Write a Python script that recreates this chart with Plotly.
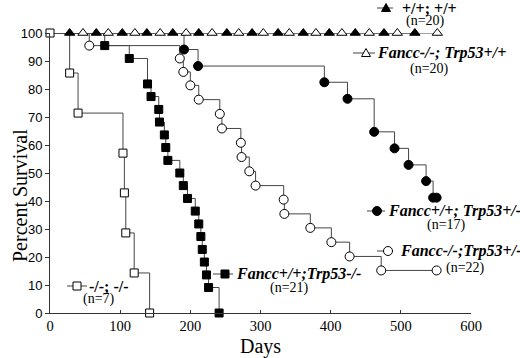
import plotly.graph_objects as go

# ---------------- data ----------------
# +/+; +/+ (n=20) censored marks, all alive
wt_days = [28, 66, 103, 138, 175, 212, 252, 288, 325, 361, 398, 435, 476, 520]
wt_surv = [100] * len(wt_days)
# Fancc-/-; Trp53+/+ (n=20) censored marks, all alive
fa_days = [47, 83, 121, 157, 194, 231, 269, 304, 341, 379, 416, 455, 495, 552]
fa_surv = [100] * len(fa_days)
# -/-; -/- (n=7)
dko_days = [0, 28, 40, 104, 106, 108, 120, 142]
dko_surv = [100, 85.7, 71.4, 57.1, 42.9, 28.6, 14.3, 0]
# Fancc+/+; Trp53-/- (n=21)
p53ko_days = [78, 113, 139, 144, 155, 156, 163, 165, 168, 185, 190, 196, 207, 212, 215, 217, 220, 223, 226, 241]
p53ko_surv = [95.5, 90.9, 81.8, 77.3, 72.7, 68.2, 63.6, 59.1, 54.5, 50.0, 45.5, 40.9, 36.4, 31.8, 27.3, 22.7, 18.2, 13.6, 9.1, 0]
# Fancc-/-; Trp53+/- (n=22)
fahet_days = [56, 185, 190, 200, 212, 242, 245, 272, 273, 284, 293, 333, 334, 371, 401, 427, 472, 551]
fahet_surv = [95.5, 90.9, 86.1, 81.3, 76.2, 71.1, 65.9, 60.8, 55.7, 50.6, 45.5, 40.5, 35.4, 30.4, 25.3, 20.2, 15.2, 15.2]
# Fancc+/+; Trp53+/- (n=17)
het_days = [191, 211, 391, 424, 462, 491, 511, 536, 546, 551]
het_surv = [94.1, 88.2, 82.4, 76.5, 64.7, 58.8, 52.9, 47.1, 41.2, 41.2]

x_ticks = [0, 100, 200, 300, 400, 500, 600]
y_ticks = [0, 10, 20, 30, 40, 50, 60, 70, 80, 90, 100]

# ---------------- layout geometry ----------------
W, H = 520, 358
PX0, PX1 = 50, 471
PY1, PY0 = 33, 313
ML, MT, MR, MB = PX0, PY1, W - PX1, H - PY0

def pxx(px):
    return (px - PX0) / (PX1 - PX0)

def pxy(py):
    return (PY0 - py) / (PY0 - PY1)

SERIF = "Liberation Serif, Times New Roman, serif"
SANS = "Liberation Sans, Arial, sans-serif"
LINE_C = "#454545"

fig = go.Figure()

series = [
    (wt_days, wt_surv, "triangle-up", "black", True, 9),
    (fa_days, fa_surv, "triangle-up", "white", True, 9),
    (dko_days, dko_surv, "square", "white", False, 8),
    (p53ko_days, p53ko_surv, "square", "black", True, 8),
    (fahet_days, fahet_surv, "circle", "white", True, 9),
    (het_days, het_surv, "circle", "black", True, 9),
]

for d, s, sym, fill, add_origin, sz in series:
    lx = ([0] + d) if add_origin else d
    ly = ([100] + s) if add_origin else s
    fig.add_trace(go.Scatter(x=lx, y=ly, mode="lines", line=dict(color=LINE_C, width=1, shape="hv"),
                             hoverinfo="skip", showlegend=False, cliponaxis=False))
for d, s, sym, fill, add_origin, sz in series:
    fig.add_trace(go.Scatter(x=d, y=s, mode="markers",
                             marker=dict(symbol=sym, size=sz, color=fill, line=dict(color="black", width=1)),
                             showlegend=False, cliponaxis=False))

# ---------------- legend keys (decoration) ----------------
shapes = []
annotations = []

def key(x_left, x_right, x_mark, y, kind, fill):
    shapes.append(dict(type="line", xref="paper", yref="paper", x0=pxx(x_left), x1=pxx(x_right),
                       y0=pxy(y), y1=pxy(y), line=dict(color=LINE_C, width=1)))
    common = dict(xref="paper", yref="paper", xsizemode="pixel", ysizemode="pixel",
                  xanchor=pxx(x_mark), yanchor=pxy(y), fillcolor=fill, line=dict(color="black", width=1))
    if kind == "circle":
        shapes.append(dict(type="circle", x0=-4.5, x1=4.5, y0=-4.5, y1=4.5, **common))
    elif kind == "square":
        shapes.append(dict(type="rect", x0=-4, x1=4, y0=-4, y1=4, **common))
    else:
        shapes.append(dict(type="path", path="M -4.5 -3.5 L 4.5 -3.5 L 0 4.5 Z", **common))

def label(x, y, text, size=16, anchor="left"):
    annotations.append(dict(xref="paper", yref="paper", x=pxx(x), y=pxy(y), text=text, showarrow=False,
                            xanchor=anchor, yanchor="middle", font=dict(family=SERIF, size=size, color="black")))

legend_items = [
    # (key x0, key x1, marker x, y, kind, fill, label x, label, n x, n y, n text)
    (377, 393, 386, 8, "tri", "black", 400, "<b>+/+; +/+</b>", 425, 21, "(n=20)"),
    (353, 375, 366, 53, "tri", "white", 375, "<b><i>Fancc-/-; Trp53+/+</i></b>", 429, 69, "(n=20)"),
    (367, 385, 377, 211, "circle", "black", 386, "<b><i>Fancc+/+; Trp53+/-</i></b>", 446, 225, "(n=17)"),
    (377, 393, 388, 251, "circle", "white", 398, "<b><i>Fancc-/-;Trp53+/-</i></b>", 465, 268, "(n=22)"),
    (213, 233, 225, 274, "square", "black", 234, "<b><i>Fancc+/+;Trp53-/-</i></b>", 289, 288, "(n=21)"),
    (67, 87, 77, 286, "square", "white", 87, "<b>-/-; -/-</b>", 99, 299, "(n=7)"),
]
for kx0, kx1, km, ky, kind, fill, lx, ltxt, nx, ny, ntxt in legend_items:
    key(kx0, kx1, km, ky, kind, fill)
    label(lx, ky, ltxt, 16)
    label(nx, ny, ntxt, 14, anchor="center")

# axis titles
annotations.append(dict(xref="paper", yref="paper", x=pxx(20), y=pxy(196), text="Percent Survival",
                        textangle=-90, showarrow=False, xanchor="center", yanchor="middle",
                        font=dict(family=SERIF, size=20, color="black")))
annotations.append(dict(xref="paper", yref="paper", x=pxx(260), y=pxy(346), text="Days",
                        showarrow=False, xanchor="center", yanchor="middle",
                        font=dict(family=SERIF, size=20, color="black")))

fig.update_layout(
    width=W, height=H, margin=dict(l=ML, r=MR, t=MT, b=MB, pad=0, autoexpand=False),
    paper_bgcolor="white", plot_bgcolor="white",
    shapes=shapes, annotations=annotations, showlegend=False,
)
fig.update_xaxes(range=[0, 600], tickvals=x_ticks, ticktext=[str(v) for v in x_ticks],
                 showline=True, linecolor="#333333", linewidth=1, ticks="inside", ticklen=3,
                 tickcolor="#333333", showgrid=False, zeroline=False, automargin=False,
                 tickfont=dict(family=SERIF, size=14.5, color="black"))
fig.update_yaxes(range=[0, 100], tickvals=y_ticks, ticktext=[str(v) for v in y_ticks],
                 showline=True, linecolor="#333333", linewidth=1, ticks="outside", ticklen=4,
                 tickcolor="#333333", showgrid=False, zeroline=False, automargin=False,
                 tickfont=dict(family=SANS, size=13, color="black"))

fig.write_html("out.html", config={"displayModeBar": False},
               post_script="document.body.style.margin='0px';")
